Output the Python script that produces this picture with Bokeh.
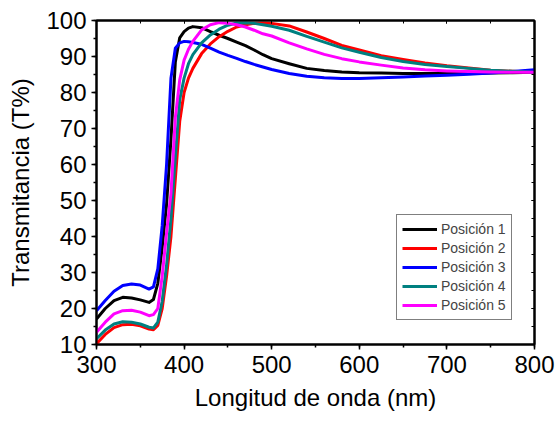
from bokeh.plotting import figure
from bokeh.models import Range1d, LinearAxis, Legend, LegendItem, SingleIntervalTicker
from bokeh.embed import file_html
from bokeh.resources import INLINE

wavelength = [300, 310, 320, 330, 340, 350, 360, 365, 370, 375, 380, 385, 390, 395,
              400, 405, 410, 420, 430, 440, 450, 460, 470, 480, 490, 500, 520, 540,
              560, 580, 600, 625, 650, 675, 700, 725, 750, 775, 800]

pos1 = [17.1, 20.0, 22.2, 23.1, 22.9, 22.4, 21.7, 22.5, 27.0, 37.0, 49.0, 67.0, 88.5, 95.2,
        96.9, 97.9, 98.3, 98.0, 96.9, 95.9, 95.0, 94.0, 93.0, 91.8, 90.5, 89.4, 88.0, 86.7,
        86.1, 85.7, 85.5, 85.4, 85.3, 85.3, 85.3, 85.3, 85.4, 85.5, 85.6]
pos2 = [10.2, 12.8, 14.7, 15.5, 15.6, 15.2, 14.3, 14.1, 15.3, 20.0, 29.0, 40.0, 56.0, 72.0,
        80.0, 84.0, 86.7, 90.8, 93.5, 95.5, 97.0, 98.2, 98.8, 99.2, 99.3, 99.2, 98.5, 96.8,
        95.0, 93.1, 91.8, 90.2, 89.2, 88.2, 87.4, 86.8, 86.2, 85.9, 85.6]
pos3 = [19.4, 22.2, 24.8, 26.4, 26.8, 26.5, 25.4, 26.0, 31.0, 43.0, 60.0, 84.0, 92.3, 93.8,
        94.2, 94.1, 93.9, 93.4, 92.3, 91.2, 90.3, 89.5, 88.6, 87.8, 87.1, 86.4, 85.3, 84.5,
        84.1, 83.9, 83.9, 84.1, 84.3, 84.6, 84.8, 85.1, 85.4, 85.8, 86.3]
pos4 = [11.6, 14.0, 15.7, 16.3, 16.2, 15.7, 14.8, 14.6, 16.2, 22.0, 32.0, 45.0, 62.0, 78.0,
        84.0, 88.0, 90.5, 93.8, 96.0, 97.6, 98.7, 99.3, 99.4, 99.2, 98.8, 98.4, 97.3, 95.6,
        94.0, 92.4, 91.2, 89.7, 88.6, 87.8, 87.2, 86.7, 86.2, 85.9, 85.6]
pos5 = [13.4, 16.2, 18.5, 19.4, 19.5, 19.0, 18.0, 18.3, 20.0, 29.0, 41.0, 52.0, 73.0, 83.5,
        89.0, 92.0, 94.2, 97.4, 98.8, 99.4, 99.2, 98.8, 98.2, 97.3, 96.3, 95.7, 93.8, 92.1,
        90.6, 89.4, 88.5, 87.6, 86.8, 86.3, 86.0, 85.8, 85.7, 85.6, 85.6]

labels = ["Posición 1", "Posición 2", "Posición 3", "Posición 4", "Posición 5"]
series = [pos1, pos2, pos3, pos4, pos5]
colors = ["#000000", "#FF0000", "#0000FF", "#008080", "#FF00FF"]

FONT = "Liberation Sans"

p = figure(width=556, height=420, x_range=Range1d(300, 800), y_range=Range1d(10, 100),
           output_backend="svg", toolbar_location=None,
           min_border_left=96, min_border_right=22, min_border_top=20, min_border_bottom=76)
p.grid.visible = False
p.outline_line_color = "black"
p.outline_line_width = 2
p.background_fill_color = "white"
p.border_fill_color = "white"

for ax, interval in ((p.xaxis[0], 100), (p.yaxis[0], 10)):
    ax.ticker = SingleIntervalTicker(interval=interval, num_minor_ticks=2)
    ax.axis_line_width = 2
    ax.major_tick_line_width = 1.5
    ax.minor_tick_line_width = 1.5
    ax.major_tick_out = 5
    ax.major_tick_in = 0
    ax.minor_tick_out = 3
    ax.minor_tick_in = 0
    ax.major_label_text_font = FONT
    ax.major_label_text_font_size = "24px"
    ax.major_label_text_color = "black"
    ax.axis_label_text_font = FONT
    ax.axis_label_text_font_size = "24px"
    ax.axis_label_text_font_style = "normal"
    ax.axis_label_text_color = "black"

p.xaxis.axis_label = "Longitud de onda (nm)"
p.yaxis.axis_label = "Transmitancia (T%)"
p.xaxis.major_label_standoff = 6
p.xaxis.axis_label_standoff = 8
p.yaxis.major_label_standoff = 5
p.yaxis.axis_label_standoff = 9

for place, interval in (("above", 100), ("right", 10)):
    ax = LinearAxis(ticker=SingleIntervalTicker(interval=interval, num_minor_ticks=2),
                    axis_line_width=2, major_tick_in=3, major_tick_out=0,
                    minor_tick_in=3, minor_tick_out=0, major_tick_line_width=1,
                    minor_tick_line_width=1, major_label_text_font_size="0px",
                    major_label_text_alpha=0, major_label_standoff=0)
    p.add_layout(ax, place)

items = []
for lab, ys, c in zip(labels, series, colors):
    r = p.line(wavelength, ys, line_color=c, line_width=3, line_join="round")
    items.append(LegendItem(label=lab, renderers=[r]))

legend = Legend(items=items, location=(300, 24), label_text_font=FONT,
                label_text_font_size="14px", glyph_width=35, glyph_height=18,
                label_height=18, spacing=1, padding=5, label_standoff=4,
                border_line_color="black", border_line_width=1.5, margin=0,
                background_fill_alpha=1)
p.add_layout(legend)

open("out.html", "w").write(file_html(p, INLINE))
